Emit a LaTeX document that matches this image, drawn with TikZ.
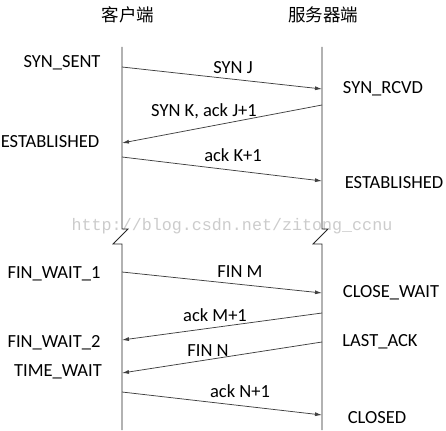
\documentclass[tikz,border=0pt]{standalone}
\usepackage{fontspec}
\setmainfont{Carlito}
\newfontfamily\cjkfont{Noto Sans CJK SC}
\newfontfamily\markfont{Liberation Mono}
\usetikzlibrary{arrows.meta,positioning}

\begin{document}
\begin{tikzpicture}[x = 1pt, y = -1pt, font = \fontsize{18.5}{20}\selectfont,
  life/.style = {draw = black!85, line width = 0.8pt},
  msg/.style = {-{Latex[length = 7pt, width = 4pt]}, draw = black!75, line width = 0.75pt}]
\useasboundingbox (0,0) rectangle (446,430);
% watermark
\node[text = black!20, font = \markfont\fontsize{16.7}{18}\selectfont] (mark) at (232,226) {http://blog.csdn.net/zitong\_ccnu};
\node[font = \cjkfont\fontsize{17.5}{19}\selectfont] (client) at (128,15) {客户端};
\node[font = \cjkfont\fontsize{17.5}{19}\selectfont] (server) at (323,15) {服务器端};
% lifelines with a break
\coordinate (ctop) at (122,47);
\coordinate (cbrk) at (122,229);
\coordinate (cbot) at (122,430);
\coordinate (stop) at (322,47);
\coordinate (sbrk) at (322,229);
\coordinate (sbot) at (322,430);
\draw[life] (ctop) -- (cbrk) -- ++(6,0) -- ++(-15,15) -- ++(9,0) -- (cbot);
\draw[life] (stop) -- (sbrk) -- ++(6,0) -- ++(-15,15) -- ++(9,0) -- (sbot);
% ends of the messages
\coordinate (c1) at (122,67);  \coordinate (s1) at (322,89);
\coordinate (s2) at (322,105); \coordinate (c2) at (122,143);
\coordinate (c3) at (122,157); \coordinate (s3) at (322,181);
\coordinate (c4) at (122,272); \coordinate (s4) at (322,293);
\coordinate (s5) at (322,313); \coordinate (c5) at (122,340);
\coordinate (s6) at (322,342); \coordinate (c6) at (122,373);
\coordinate (c7) at (122,392); \coordinate (s7) at (322,415);
\draw[msg] (c1) -- (s1);
\draw[msg] (s2) -- (c2);
\draw[msg] (c3) -- (s3);
\draw[msg] (c4) -- (s4);
\draw[msg] (s5) -- (c5);
\draw[msg] (s6) -- (c6);
\draw[msg] (c7) -- (s7);
\node (synj) at (233,68) {SYN J};
\node (synk) at (204,111) {SYN K, ack J+1};
\node (ackk) at (233,155) {ack K+1};
\node (finm) at (240,272) {FIN M};
\node (ackm) at (215,315) {ack M+1};
\node (finn) at (208,351) {FIN N};
\node (ackn) at (240,391) {ack N+1};
% states
\node (synsent) at (62,63) {SYN\_SENT};
\node (cest) at (50,142) {ESTABLISHED};
\node (finw1) at (54,274) {FIN\_WAIT\_1};
\node (finw2) at (54,343) {FIN\_WAIT\_2};
\node (timew) at (58,372) {TIME\_WAIT};
\node (synrcvd) at (383,89) {SYN\_RCVD};
\node (sest) at (394,183) {ESTABLISHED};
\node (closew) at (391,293) {CLOSE\_WAIT};
\node (lastack) at (380,342) {LAST\_ACK};
\node (closed) at (377,418) {CLOSED};
\end{tikzpicture}
\end{document}
